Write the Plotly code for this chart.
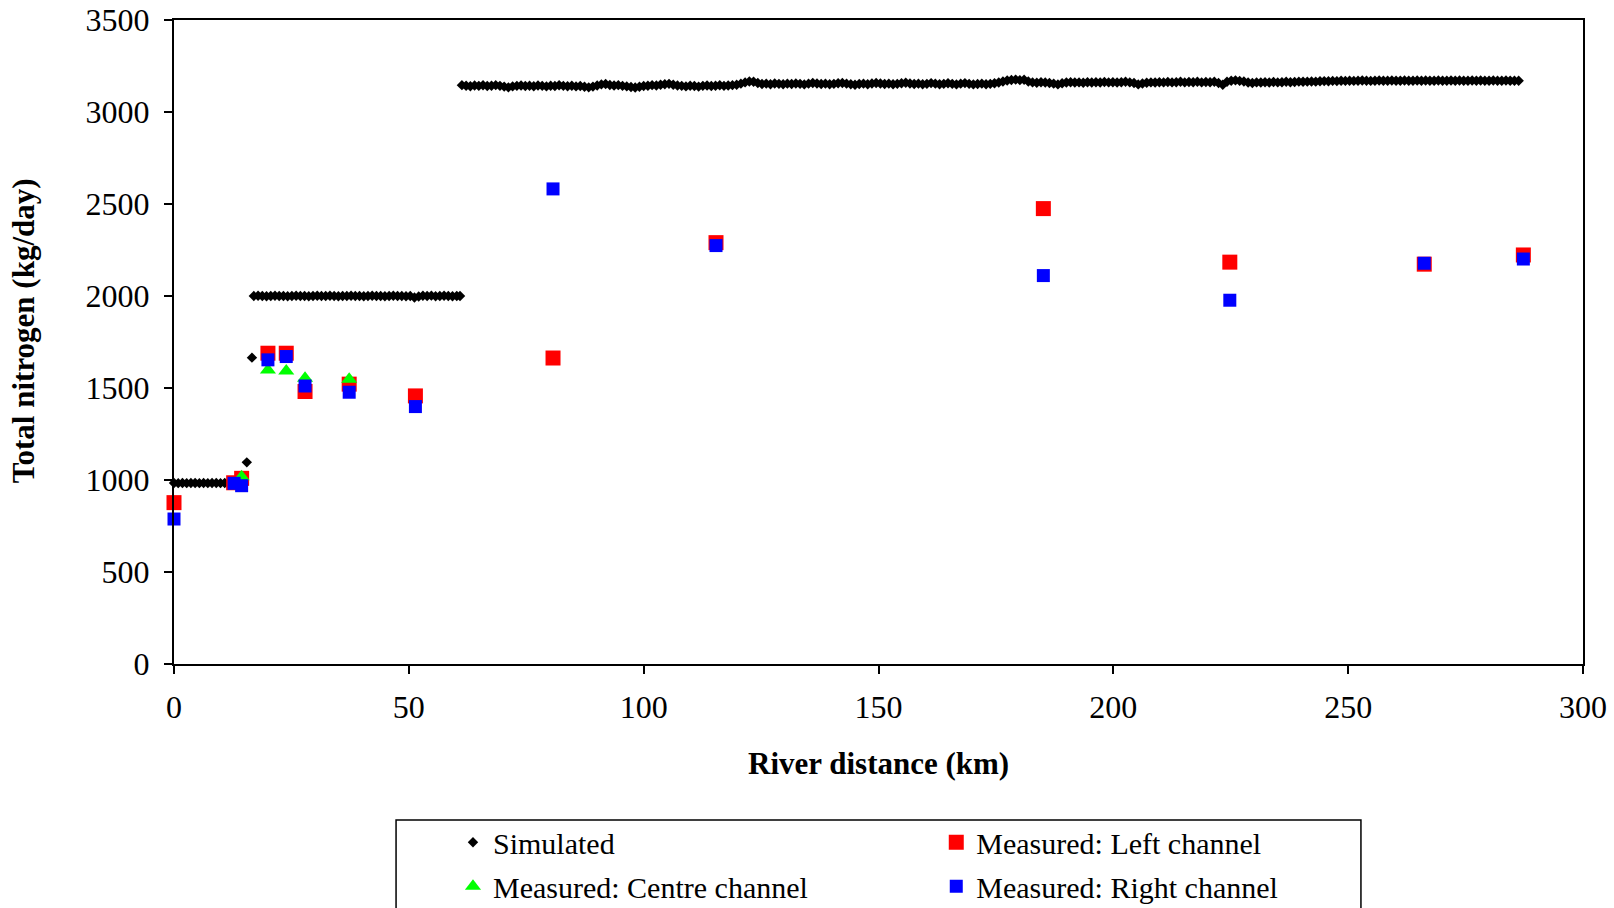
import plotly.graph_objects as go

# ---------------- data ----------------
# Simulated total nitrogen (kg/day) along the river (km)
sim_x = [
    0.0, 0.9, 1.8, 2.7, 3.6, 4.5, 5.4, 6.3, 7.2, 8.1, 9.0, 9.9, 10.8, 11.7, 12.6, 13.5, 14.4,
    15.5, 16.6,
    17.0, 17.9, 18.8, 19.7, 20.6, 21.5, 22.4, 23.3, 24.2, 25.1, 26.0, 26.9, 27.8, 28.7, 29.6, 30.5,
    31.4, 32.3, 33.2, 34.1, 35.0, 35.9, 36.8, 37.7, 38.6, 39.5, 40.4, 41.3, 42.2, 43.1, 44.0, 44.9,
    45.8, 46.7, 47.6, 48.5, 49.4, 50.3, 51.2, 52.1, 53.0, 53.9, 54.8, 55.7, 56.6, 57.5, 58.4, 59.3,
    60.2, 60.9,
    61.3, 62.2, 63.1, 64.0, 64.9, 65.8, 66.7, 67.6, 68.5, 69.4,
    70.3, 71.2, 72.1, 73.0, 73.9, 74.8, 75.7, 76.6, 77.5, 78.4,
    79.3, 80.2, 81.1, 82.0, 82.9, 83.8, 84.7, 85.6, 86.5, 87.4,
    88.3, 89.2, 90.1, 91.0, 91.9, 92.8, 93.7, 94.6, 95.5, 96.4,
    97.3, 98.2, 99.1, 100.0, 100.9, 101.8, 102.7, 103.6, 104.5, 105.4,
    106.3, 107.2, 108.1, 109.0, 109.9, 110.8, 111.7, 112.6, 113.5, 114.4,
    115.3, 116.2, 117.1, 118.0, 118.9, 119.8, 120.7, 121.6, 122.5, 123.4,
    124.3, 125.2, 126.1, 127.0, 127.9, 128.8, 129.7, 130.6, 131.5, 132.4,
    133.3, 134.2, 135.1, 136.0, 136.9, 137.8, 138.7, 139.6, 140.5, 141.4,
    142.3, 143.2, 144.1, 145.0, 145.9, 146.8, 147.7, 148.6, 149.5, 150.4,
    151.3, 152.2, 153.1, 154.0, 154.9, 155.8, 156.7, 157.6, 158.5, 159.4,
    160.3, 161.2, 162.1, 163.0, 163.9, 164.8, 165.7, 166.6, 167.5, 168.4,
    169.3, 170.2, 171.1, 172.0, 172.9, 173.8, 174.7, 175.6, 176.5, 177.4,
    178.3, 179.2, 180.1, 181.0, 181.9, 182.8, 183.7, 184.6, 185.5, 186.4,
    187.3, 188.2, 189.1, 190.0, 190.9, 191.8, 192.7, 193.6, 194.5, 195.4,
    196.3, 197.2, 198.1, 199.0, 199.9, 200.8, 201.7, 202.6, 203.5, 204.4,
    205.3, 206.2, 207.1, 208.0, 208.9, 209.8, 210.7, 211.6, 212.5, 213.4,
    214.3, 215.2, 216.1, 217.0, 217.9, 218.8, 219.7, 220.6, 221.5, 222.4,
    223.3, 224.2, 225.1, 226.0, 226.9, 227.8, 228.7, 229.6, 230.5, 231.4,
    232.3, 233.2, 234.1, 235.0, 235.9, 236.8, 237.7, 238.6, 239.5, 240.4,
    241.3, 242.2, 243.1, 244.0, 244.9, 245.8, 246.7, 247.6, 248.5, 249.4,
    250.3, 251.2, 252.1, 253.0, 253.9, 254.8, 255.7, 256.6, 257.5, 258.4,
    259.3, 260.2, 261.1, 262.0, 262.9, 263.8, 264.7, 265.6, 266.5, 267.4,
    268.3, 269.2, 270.1, 271.0, 271.9, 272.8, 273.7, 274.6, 275.5, 276.4,
    277.3, 278.2, 279.1, 280.0, 280.9, 281.8, 282.7, 283.6, 284.5, 285.4, 286.3,
]
sim_y = [
    984, 983, 984, 983, 984, 984, 983, 984, 983, 984, 984, 983, 984, 983, 984, 984, 983,
    1096, 1665,
    2000, 2001, 2000, 1999, 2000, 2001, 2000, 2000, 1999, 2000, 2001, 2000, 2000, 1999, 2000, 2001,
    2000, 2000, 2001, 2000, 1999, 2000, 2000, 2001, 2000, 2000, 1999, 2000, 2001, 2000, 2000, 1999,
    2000, 2001, 2000, 2000, 1999, 2000, 1992, 1997, 2001, 2000, 2002, 1999, 2000, 2001, 2000, 1999,
    2000, 2000,
    3146, 3143, 3140, 3144, 3142, 3145, 3141, 3143, 3146, 3142,
    3138, 3134, 3139, 3142, 3144, 3141, 3143, 3140, 3144, 3142,
    3139, 3143, 3141, 3145, 3142, 3140, 3143, 3139, 3141, 3137,
    3134, 3138, 3144, 3150, 3152, 3147, 3144, 3146, 3142, 3139,
    3136, 3133, 3137, 3141, 3143, 3146, 3144, 3148, 3151, 3153,
    3148, 3144, 3142, 3139, 3143, 3141, 3138, 3142, 3144, 3141,
    3143, 3145, 3142, 3144, 3146, 3148, 3154, 3161, 3166, 3164,
    3158, 3152, 3154, 3151, 3155, 3153, 3151, 3154, 3152, 3155,
    3153, 3150, 3154, 3158, 3155, 3152, 3154, 3151, 3153, 3156,
    3158, 3154, 3151, 3148, 3152, 3154, 3151, 3155, 3158, 3155,
    3152, 3154, 3151, 3153, 3156, 3159, 3155, 3152, 3154, 3151,
    3153, 3157, 3154, 3151, 3153, 3156, 3153, 3150, 3154, 3157,
    3153, 3150, 3152, 3154, 3151, 3153, 3156, 3160, 3166, 3171,
    3174, 3176, 3173, 3175, 3166, 3161, 3159, 3162, 3160, 3158,
    3154, 3150, 3156, 3160, 3162, 3160, 3161, 3159, 3162, 3160,
    3162, 3160, 3163, 3161, 3162, 3160, 3162, 3164, 3161, 3158,
    3150, 3155, 3159, 3161, 3160, 3162, 3161, 3163, 3161, 3162,
    3164, 3161, 3163, 3162, 3164, 3161, 3163, 3162, 3164, 3158,
    3148, 3164, 3170, 3172, 3169, 3166, 3160, 3158, 3161, 3160,
    3162, 3160, 3163, 3161, 3162, 3164, 3162, 3163, 3165, 3164,
    3165, 3166, 3165, 3167, 3168, 3167, 3169, 3168, 3170, 3169,
    3170, 3169, 3170, 3171, 3170, 3169, 3170, 3171, 3170, 3170,
    3171, 3170, 3170, 3171, 3170, 3170, 3171, 3170, 3171, 3170,
    3170, 3171, 3170, 3170, 3171, 3170, 3171, 3170, 3170, 3171,
    3170, 3171, 3170, 3170, 3171, 3170, 3170, 3171, 3170, 3170, 3170,
]

# Measured: left channel
left_x = [0.0, 12.7, 14.4, 20.0, 23.9, 27.9, 37.3, 51.4, 80.7, 115.4, 185.1, 224.8, 266.2, 287.3]
left_y = [877, 985, 1009, 1689, 1689, 1481, 1521, 1457, 1663, 2290, 2475, 2184, 2173, 2223]

# Measured: centre channel
centre_x = [14.4, 20.0, 23.9, 27.9, 37.3]
centre_y = [1017, 1598, 1593, 1553, 1548]

# Measured: right channel
right_x = [0.0, 12.8, 14.4, 20.0, 23.9, 27.9, 37.3, 51.4, 80.7, 115.4, 185.1, 224.8, 266.2, 287.3]
right_y = [788, 982, 969, 1653, 1671, 1511, 1477, 1399, 2582, 2274, 2111, 1977, 2178, 2201]

x_ticks = [0, 50, 100, 150, 200, 250, 300]
y_ticks = [0, 500, 1000, 1500, 2000, 2500, 3000, 3500]

x_title = "River distance (km)"
y_title = "Total nitrogen (kg/day)"

# ---------------- figure ----------------
FONT = "Liberation Serif, Times New Roman, serif"

fig = go.Figure()
fig.add_trace(go.Scatter(
    x=sim_x, y=sim_y, mode="markers", name="Simulated",
    marker=dict(symbol="diamond", size=8, color="black"),
    cliponaxis=False, legend="legend", legendgroup="a"))
fig.add_trace(go.Scatter(
    x=left_x, y=left_y, mode="markers", name="Measured: Left channel",
    marker=dict(symbol="square", size=15, color="#ff0000"),
    cliponaxis=False, legend="legend2", legendgroup="b"))
fig.add_trace(go.Scatter(
    x=centre_x, y=centre_y, mode="markers", name="Measured: Centre channel",
    marker=dict(symbol="triangle-up", size=14, color="#00ff00"),
    cliponaxis=False, legend="legend", legendgroup="c"))
fig.add_trace(go.Scatter(
    x=right_x, y=right_y, mode="markers", name="Measured: Right channel",
    marker=dict(symbol="square", size=13, color="#0000ff"),
    cliponaxis=False, legend="legend2", legendgroup="d"))

axis_common = dict(
    showgrid=False, zeroline=False, showline=True, linecolor="black", linewidth=2,
    mirror=True, ticks="outside", ticklen=8, tickwidth=1.5, tickcolor="black",
    tickfont=dict(family=FONT, size=32, color="black"), automargin=False,
)

fig.update_xaxes(range=[0, 300], tickvals=x_ticks, ticktext=[str(v) for v in x_ticks],
                 ticklabelstandoff=6, **axis_common)
fig.update_yaxes(range=[0, 3500], tickvals=y_ticks, ticktext=[str(v) for v in y_ticks],
                 ticklabelstandoff=8, **axis_common)

legend_common = dict(
    font=dict(family=FONT, size=30, color="black"),
    bgcolor="rgba(0,0,0,0)", borderwidth=0, orientation="v",
    traceorder="grouped", tracegroupgap=2,
    xanchor="left", yanchor="middle", itemsizing="trace",
)
fig.update_layout(
    width=1614, height=908,
    margin=dict(l=174, r=31, t=20, b=244, autoexpand=False),
    paper_bgcolor="white", plot_bgcolor="white",
    showlegend=True,
    legend=dict(x=0.198, y=-0.311, **legend_common),
    legend2=dict(x=0.541, y=-0.311, **legend_common),
    shapes=[dict(type="rect", xref="paper", yref="paper",
                 x0=0.1576, x1=0.8424, y0=-0.2422, y1=-0.45,
                 line=dict(color="black", width=1.5), fillcolor="rgba(0,0,0,0)")],
    annotations=[
        dict(text="<b>" + x_title + "</b>", xref="paper", yref="paper", x=0.5, y=-0.155,
             xanchor="center", yanchor="middle", showarrow=False,
             font=dict(family=FONT, size=31, color="black")),
        dict(text="<b>" + y_title + "</b>", xref="paper", yref="paper", x=-0.107, y=0.517,
             xanchor="center", yanchor="middle", showarrow=False, textangle=-90,
             font=dict(family=FONT, size=31, color="black")),
    ],
)

fig.write_html(
    "out.html",
    config={"displayModeBar": False},
    post_script="document.body.style.margin='0px';document.body.style.overflow='hidden';",
)
